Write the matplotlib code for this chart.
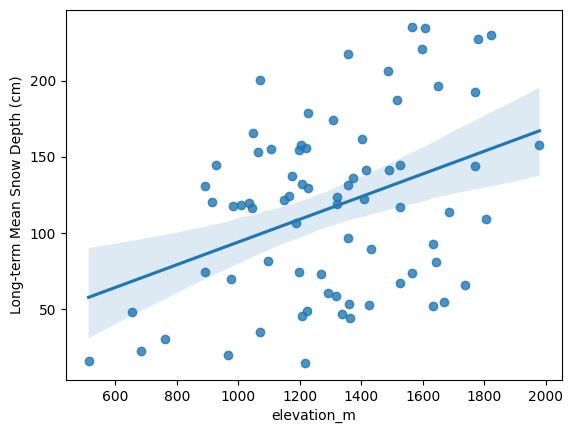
import matplotlib
matplotlib.use("Agg")
import matplotlib.pyplot as plt
import numpy as np
import pandas as pd
import seaborn as sns

# elevation (m) and long-term mean snow depth (cm)
elevation_m = [
    513, 653, 685, 762, 890, 892, 913, 926, 965, 975,
    983, 1010, 1036, 1046, 1048, 1065, 1071, 1071, 1096, 1107,
    1150, 1164, 1174, 1189, 1198, 1198, 1205, 1221, 1208, 1228,
    1228, 1208, 1223, 1218, 1269, 1293, 1308, 1319, 1320, 1322,
    1338, 1355, 1355, 1355, 1361, 1364, 1374, 1402, 1407, 1416,
    1426, 1432, 1485, 1490, 1517, 1524, 1527, 1527, 1563, 1566,
    1598, 1608, 1634, 1634, 1643, 1650, 1670, 1686, 1738, 1771,
    1771, 1778, 1806, 1823, 1979,
]
snow_depth_cm = [
    16.2, 48.0, 22.8, 30.3, 74.1, 131.0, 120.4, 144.7, 19.7, 69.7,
    118.0, 118.3, 119.7, 116.2, 166.0, 153.0, 200.5, 34.7, 81.6, 155.0,
    121.7, 124.3, 137.5, 106.4, 74.3, 154.4, 157.7, 155.7, 132.0, 129.4,
    178.7, 45.2, 48.7, 14.5, 73.0, 60.5, 174.3, 58.4, 119.3, 123.7,
    46.5, 217.8, 131.6, 96.5, 53.1, 44.5, 136.0, 161.8, 122.4, 141.2,
    52.4, 89.2, 206.6, 141.2, 187.5, 116.9, 144.7, 66.9, 73.5, 235.5,
    220.8, 234.9, 92.5, 52.0, 80.7, 196.5, 54.6, 113.6, 65.6, 192.8,
    144.0, 227.6, 109.2, 230.3, 157.9,
]

df = pd.DataFrame({"elevation_m": elevation_m,
                   "snow": snow_depth_cm})

fig = plt.figure(figsize=(5.73, 4.33), dpi=100)
ax = fig.add_axes([66 / 573, 1 - 380 / 433, 496 / 573, 370 / 433])

sns.regplot(data=df, x="elevation_m", y="snow", ax=ax, seed=0)
ax.set_ylabel("Long-term Mean Snow Depth (cm)")
ax.set_xlabel("elevation_m")

fig.savefig("out.png", dpi=100)
